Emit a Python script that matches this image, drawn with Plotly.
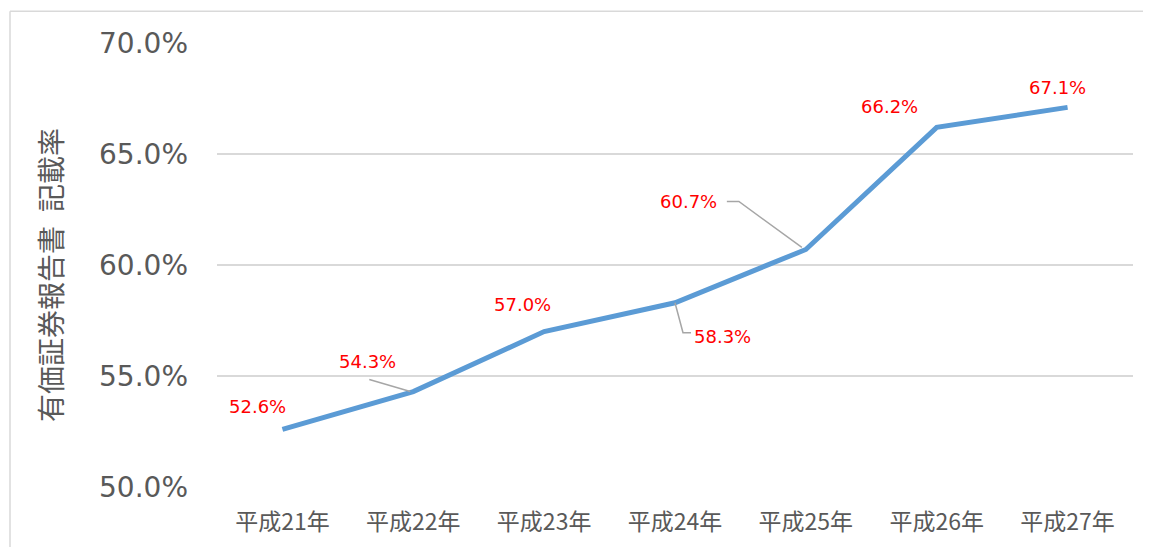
import plotly.graph_objects as go

categories = ["平成21年", "平成22年", "平成23年", "平成24年", "平成25年", "平成26年", "平成27年"]
rates = [52.6, 54.3, 57.0, 58.3, 60.7, 66.2, 67.1]
y_ticks = [50, 55, 60, 65, 70]
y_title = "有価証券報告書\u2002記載率"

# label offsets in pixels (dx right, dy down) from the point
label_offsets = [(-25, -23), (-46, -30), (-22, -27), (47, 34), (-117, -48), (-47, -21), (-10, -20)]
# leader line paths (pixel offsets, screen-down y) keyed by point index
leaders = {
    1: [(-3, 0), (-44, -12)],
    3: [(0, 0), (8, 30), (16, 30)],
    4: [(-4, -2), (-67, -48), (-79, -48)],
}

# page has an 8px body margin; figure is sized to fit inside the window
OFF = 8
W, H = 1135, 539
L, R, T, B = 217 - OFF, 10, 43 - OFF, 58
pw, ph = W - L - R, H - T - B

fig = go.Figure()
fig.add_trace(go.Scatter(
    x=categories, y=rates, mode="lines",
    line=dict(color="#5B9BD5", width=5),
    hoverinfo="skip",
))

annotations = []
for c, v, (dx, dy) in zip(categories, rates, label_offsets):
    annotations.append(dict(
        x=c, y=v, xref="x", yref="y", text=f"{v:.1f}%", showarrow=False,
        xshift=dx, yshift=-dy,
        font=dict(family="DejaVu Sans", size=18, color="#FF0000"),
    ))

annotations.append(dict(
    x=(50 - OFF - L) / pw, y=(H - B - (276 - OFF)) / ph, xref="paper", yref="paper",
    xanchor="center", yanchor="middle",
    text=y_title, textangle=-90, showarrow=False,
    font=dict(family="Noto Sans CJK JP", size=28, color="#595959"),
))

shapes = []
for i, pts in leaders.items():
    path = "M" + " L".join(f"{px},{-py}" for px, py in pts)
    shapes.append(dict(
        type="path", xref="x", yref="y",
        xsizemode="pixel", ysizemode="pixel",
        xanchor=categories[i], yanchor=rates[i],
        path=path, line=dict(color="#A6A6A6", width=1.5),
    ))

# chart border (top and left edges; the rest lies outside the picture)
bx0 = (10 - OFF - L) / pw
by1 = (H - B - (11 - OFF)) / ph
shapes.append(dict(type="line", xref="paper", yref="paper",
                   x0=bx0, x1=(W + 30 - L) / pw, y0=by1, y1=by1,
                   line=dict(color="#D9D9D9", width=1.5)))
shapes.append(dict(type="line", xref="paper", yref="paper",
                   x0=bx0, x1=bx0, y0=(H - B - (H + 30)) / ph, y1=by1,
                   line=dict(color="#D9D9D9", width=1.5)))

fig.update_layout(
    width=W, height=H,
    margin=dict(l=L, r=R, t=T, b=B),
    paper_bgcolor="white", plot_bgcolor="white",
    showlegend=False,
    annotations=annotations, shapes=shapes,
)
fig.update_xaxes(
    type="category", range=[-0.5, 6.5], showgrid=False, zeroline=False,
    showline=False, ticks="",
    tickfont=dict(family="Noto Sans CJK JP", size=23, color="#595959"),
    ticklabelstandoff=19,
)
fig.update_yaxes(
    range=[50, 70], tickvals=y_ticks,
    ticktext=[f"{t:.1f}%" for t in y_ticks],
    showgrid=True, gridcolor="#D9D9D9", gridwidth=1.5,
    zeroline=False, showline=False, ticks="",
    tickfont=dict(family="DejaVu Sans", size=28, color="#595959"),
    ticklabelstandoff=28,
)

fig.write_html("out.html")
